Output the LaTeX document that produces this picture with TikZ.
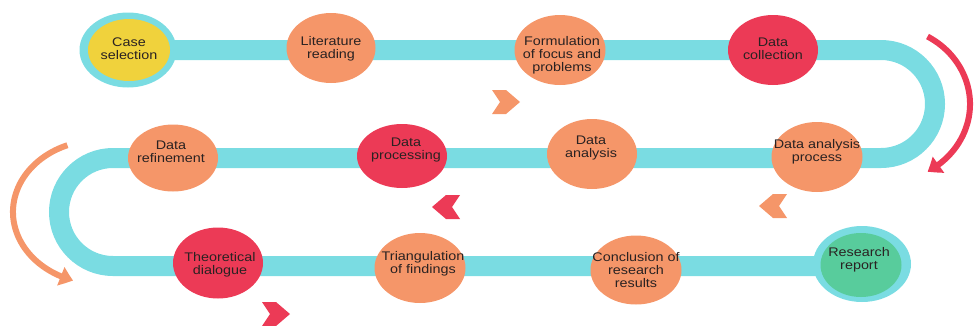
\documentclass[tikz,border=0pt]{standalone}
\usepackage{fontspec}
\newfontfamily\lblfont{Liberation Sans}[FakeStretch=1.15]
\usetikzlibrary{arrows.meta,shapes.geometric,bending}
\definecolor{trackc}{HTML}{7ADCE2}
\definecolor{yellowc}{HTML}{F0D23C}
\definecolor{orangec}{HTML}{F59669}
\definecolor{redc}{HTML}{EC3A56}
\definecolor{greenc}{HTML}{58CC9C}
\definecolor{textc}{HTML}{2A2222}
\begin{document}
\begin{tikzpicture}[x=1pt,y=-1pt,
  stage/.style={ellipse, inner sep=0pt, minimum width=90pt, minimum height=70pt},
  lbl/.style={font=\lblfont\fontsize{12.5}{13}\selectfont, align=center, text=textc, inner sep=0pt},
  trackline/.style={draw=trackc, line width=20pt},
  bendarrow/.style={line width=6pt, -{Triangle[width=19pt,length=13pt,bend]}},
  chevron/.pic={\fill[pic actions] (-14,-12) -- (0,-12) -- (14,0) -- (0,12) -- (-14,12) -- (-6,0) -- cycle;}
]
\useasboundingbox (0,0) rectangle (974,325);

% winding track
\coordinate (tA) at (881,50);
\coordinate (tB) at (113,158);
\coordinate (tEnd) at (862,266);
\coordinate (tStart) at (128,50);
\draw[trackline] (tStart) -- (tA) arc[start angle=-90, end angle=90, radius=54]
  -- (tB) arc[start angle=270, end angle=90, radius=54] -- (tEnd);

% curved direction arrows
\coordinate (redS) at (927.5,36.5);
\draw[bendarrow, draw=redc] (redS) arc[start angle=-60, end angle=60, x radius=85, y radius=78];
\coordinate (orS) at (67.4,145.2);
\draw[bendarrow, draw=orangec] (orS) arc[start angle=248, end angle=108, x radius=87, y radius=72];

% chevrons
\pic[fill=orangec] (chA) at (506,102) {chevron};
\pic[fill=redc, xscale=-1] (chB) at (446,207) {chevron};
\pic[fill=orangec, xscale=-1] (chC) at (773,206) {chevron};
\pic[fill=redc] (chD) at (276,314) {chevron};

% stages
\node[stage, fill=trackc, minimum width=97pt, minimum height=75pt] (caseO) at (128,50) {};
\node[stage, fill=yellowc, minimum width=82pt, minimum height=62pt] (case) at (129,50) {};
\node[stage, fill=orangec, minimum width=89pt] (lit) at (331,48) {};
\node[stage, fill=orangec, minimum width=91pt] (form) at (560,50) {};
\node[stage, fill=redc] (coll) at (773,50) {};
\node[stage, fill=orangec, minimum width=91pt] (dap) at (817,157) {};
\node[stage, fill=orangec] (da) at (592,154) {};
\node[stage, fill=redc, minimum height=64pt] (dp) at (402,156) {};
\node[stage, fill=orangec, minimum height=67pt] (dr) at (173,158) {};
\node[stage, fill=redc, minimum height=71pt] (td) at (218,263) {};
\node[stage, fill=orangec, minimum width=91pt] (tri) at (420,268) {};
\node[stage, fill=orangec, minimum width=91pt, minimum height=69pt] (conc) at (636,270) {};
\node[stage, fill=trackc, minimum width=98pt, minimum height=76pt] (rrO) at (862,264) {};
\node[stage, fill=greenc, minimum width=81pt, minimum height=64pt] (rr) at (861,265) {};

% labels
\node[lbl] (case-t) at (129,49) {Case\\selection};
\node[lbl] (lit-t) at (331,49) {Literature\\reading};
\node[lbl] (form-t) at (562,55) {Formulation\\of focus and\\problems};
\node[lbl] (coll-t) at (773,49) {Data\\collection};
\node[lbl] (dap-t) at (817,152) {Data analysis\\process};
\node[lbl] (da-t) at (591,148) {Data\\analysis};
\node[lbl] (dp-t) at (406,150) {Data\\processing};
\node[lbl] (dr-t) at (171,152) {Data\\refinement};
\node[lbl] (td-t) at (220,265) {Theoretical\\dialogue};
\node[lbl] (tri-t) at (423,264) {Triangulation\\of findings};
\node[lbl] (conc-t) at (636,270) {Conclusion of\\research\\results};
\node[lbl] (rr-t) at (859,260) {Research\\report};
\end{tikzpicture}
\end{document}
